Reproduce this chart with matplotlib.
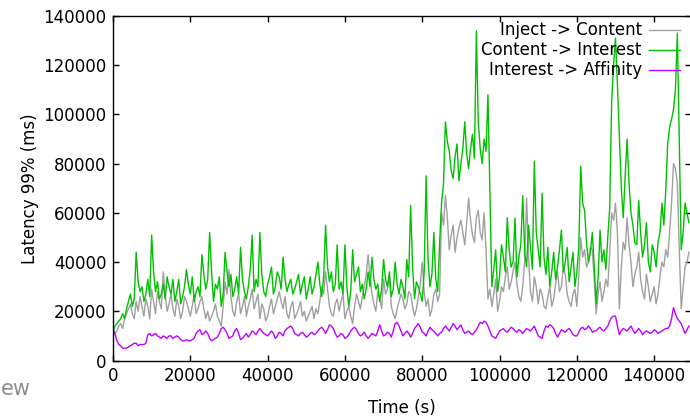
import numpy as np
import matplotlib
matplotlib.use("Agg")
import matplotlib.pyplot as plt

plt.rcParams['font.family'] = ['DejaVu Sans']

# time axis: one sample per 500 s
time_s = np.arange(0, 149001, 500)

# values in thousands of ms
inject_content = [
    10, 11, 12, 14, 15, 13, 17, 19, 21, 23, 19, 17, 24, 20, 26, 22, 18, 25, 22, 17,
    29, 24, 19, 28, 24, 21, 36, 27, 20, 23, 27, 21, 18, 25, 22, 17, 20, 26, 24, 21,
    18, 22, 27, 19, 21, 24, 26, 21, 17, 20, 16, 18, 20, 23, 18, 16, 14, 22, 32, 27,
    37, 26, 20, 18, 24, 27, 19, 22, 26, 18, 22, 25, 29, 21, 24, 27, 17, 23, 21, 16,
    18, 22, 25, 19, 22, 25, 28, 24, 21, 26, 19, 17, 22, 24, 17, 19, 21, 24, 18, 20,
    16, 18, 20, 22, 17, 21, 19, 24, 30, 27, 36, 29, 22, 19, 18, 23, 25, 20, 24, 27,
    17, 20, 22, 18, 15, 22, 27, 24, 21, 26, 30, 35, 43, 34, 27, 23, 20, 28, 25, 21,
    33, 27, 29, 34, 22, 19, 17, 21, 24, 27, 25, 21, 23, 28, 27, 22, 18, 21, 26, 31,
    40, 28, 22, 25, 18, 21, 27, 29, 24, 27, 60, 55, 67, 58, 45, 51, 55, 44, 50, 54,
    57, 52, 47, 56, 66, 57, 51, 48, 58, 61, 52, 49, 60, 45, 25, 29, 22, 27, 33, 20,
    24, 30, 28, 34, 38, 29, 32, 36, 40, 31, 26, 24, 30, 40, 66, 42, 28, 24, 34, 30,
    23, 29, 27, 22, 21, 26, 30, 22, 25, 31, 36, 28, 30, 38, 35, 27, 24, 22, 27, 29,
    22, 34, 50, 42, 45, 38, 40, 46, 45, 33, 19, 27, 32, 24, 28, 33, 30, 44, 60, 57,
    64, 52, 21, 38, 48, 45, 58, 47, 40, 30, 35, 38, 44, 33, 28, 25, 35, 30, 24, 27,
    30, 23, 27, 34, 40, 38, 45, 42, 52, 64, 80, 78, 72, 45, 21, 30, 38, 40, 44]

content_interest = [
    12, 14, 15, 16, 17, 19, 17, 21, 24, 27, 22, 25, 44, 32, 28, 30, 24, 27, 33, 26,
    51, 36, 28, 32, 25, 27, 31, 25, 34, 30, 27, 33, 24, 28, 33, 23, 26, 30, 37, 31,
    27, 34, 24, 28, 30, 26, 43, 35, 29, 33, 52, 36, 24, 31, 29, 34, 22, 27, 44, 36,
    30, 35, 26, 29, 34, 27, 46, 33, 28, 25, 30, 37, 51, 28, 33, 30, 52, 35, 28, 26,
    31, 34, 38, 27, 30, 36, 34, 29, 42, 33, 28, 31, 33, 27, 29, 32, 35, 27, 31, 34,
    25, 29, 34, 27, 30, 35, 40, 31, 26, 34, 55, 38, 32, 36, 28, 31, 47, 29, 32, 27,
    47, 30, 22, 28, 45, 32, 35, 38, 28, 31, 25, 29, 36, 30, 42, 33, 29, 31, 24, 29,
    41, 33, 30, 36, 26, 29, 40, 31, 27, 33, 30, 25, 41, 34, 63, 38, 25, 32, 30, 27,
    24, 36, 75, 41, 30, 35, 52, 33, 28, 48, 64, 72, 97, 89, 85, 77, 74, 83, 88, 73,
    80, 86, 97, 84, 78, 86, 92, 82, 134, 97, 86, 80, 90, 85, 108, 68, 30, 37, 45, 28,
    34, 47, 42, 36, 58, 45, 38, 40, 58, 34, 42, 47, 67, 44, 38, 55, 46, 37, 81, 52,
    45, 38, 68, 42, 35, 46, 30, 36, 44, 33, 38, 45, 53, 36, 40, 46, 32, 38, 44, 30,
    36, 46, 79, 64, 61, 48, 40, 44, 52, 38, 23, 34, 53, 40, 45, 37, 50, 62, 105, 120,
    131, 112, 91, 70, 58, 75, 90, 72, 60, 55, 48, 47, 65, 52, 42, 47, 56, 40, 36, 47,
    44, 38, 48, 52, 64, 55, 69, 88, 95, 98, 102, 110, 133, 90, 45, 52, 64, 60, 56]

interest_affinity = [
    13, 11, 8, 6.5, 6, 5, 5, 5, 5.5, 6, 6.5, 7, 7, 6, 6.5, 6.5, 6.5, 7, 10.5, 11,
    10, 10.5, 11, 10, 9.5, 9, 10, 9.5, 9, 10, 10, 9, 9.5, 10, 9.5, 8.5, 8, 8, 8.5, 8,
    8, 8.5, 9, 11, 12, 12.5, 10.5, 11, 12, 11, 9, 8, 8.5, 9, 9.5, 11, 13, 13.5, 12.5, 11,
    9, 9.5, 10, 12, 13, 11, 8.5, 9, 10, 11, 9.5, 10.5, 12, 11.5, 10.5, 12, 13, 12, 11, 10.5,
    10, 11, 12, 11, 9, 10, 11.5, 11, 10, 12, 13, 13.5, 14, 13, 11, 10.5, 10, 11, 11.5, 10.5,
    9.5, 10, 11, 11.5, 10.5, 11, 12, 13, 13.5, 12.5, 11, 12.5, 14.5, 14, 13, 11, 9.5, 10, 11, 10.5,
    9, 9.5, 10.5, 12, 13, 13.5, 12.5, 11, 10, 10.5, 11.5, 10, 9, 10, 11, 10.5, 10, 12, 14.5, 12,
    10, 10.5, 11.5, 11, 9.5, 12, 15, 15.5, 14, 12, 10, 11, 12, 11, 9.5, 11, 13, 14, 15, 13.5,
    11.5, 11, 10, 12, 13.5, 12.5, 12, 11, 10, 11, 11.5, 13, 14, 13, 12, 13.5, 15, 14, 12.5, 13.5,
    14.5, 12.5, 11, 11.5, 12, 11, 10.5, 11.5, 12.5, 14, 15.5, 15, 16, 15.5, 14, 12, 10, 9.5, 9, 10.5,
    12, 12.5, 13, 12, 11.5, 12.5, 13.5, 13, 12, 11.5, 12.5, 12, 11, 12, 13, 12.5, 12, 13, 14, 12,
    10, 9.5, 9, 12, 14, 13.5, 14.5, 14, 13, 11, 9.5, 11, 12.5, 12, 11.5, 12.5, 13, 12, 10.5, 10,
    10, 11.5, 13, 13.5, 12.5, 13, 14, 13, 11.5, 12, 12, 13, 13.5, 12.5, 12, 13, 14, 16, 17.5, 18,
    18, 14, 10.5, 12, 13, 12.5, 12, 13, 14, 12.5, 11, 12, 13, 12, 10.5, 11.5, 12, 11.5, 11, 11.5,
    12.5, 12, 11, 11.5, 12, 12.5, 13, 13, 14, 17, 21.5, 19, 17, 16, 15, 13, 11, 12.5, 14]

series_labels = ["Inject -> Content", "Content -> Interest", "Interest -> Affinity"]
series_colors = ["#a0a0a0", "#00c000", "#c000ff"]

x_ticks = [0, 20000, 40000, 60000, 80000, 100000, 120000, 140000]
y_ticks = [0, 20000, 40000, 60000, 80000, 100000, 120000, 140000]

W, H = 690, 416
fig = plt.figure(figsize=(W / 100, H / 100), dpi=100)
left_px, right_px, top_px, bottom_px = 113.0, 690.5, 16.0, 360.5
ax = fig.add_axes([left_px / W, (H - bottom_px) / H,
                   (right_px - left_px) / W, (bottom_px - top_px) / H])

series = [inject_content, content_interest, interest_affinity]
for vals, col in zip(series, series_colors):
    ax.plot(time_s, np.array(vals) * 1000, color=col, lw=1.0)

ax.set_xlim(0, 149400)
ax.set_ylim(0, 140000)
ax.set_xticks(x_ticks)
ax.set_yticks(y_ticks)
ax.set_xticklabels([str(v) for v in x_ticks])
ax.set_yticklabels([str(v) for v in y_ticks])
ax.tick_params(direction='in', length=4.5, width=1.0, top=True, right=True,
               labelsize=12, pad=4.5, colors='black')
for sp in ax.spines.values():
    sp.set_linewidth(1.0)

ax.set_xlabel("Time (s)", fontsize=12, labelpad=10)
ax.set_ylabel("Latency 99% (ms)", fontsize=12, labelpad=3)

# legend (gnuplot style, text right aligned, sample to the right)
aw = right_px - left_px
ah = bottom_px - top_px
rows_px = [30, 50, 70]
for lab, col, ry in zip(series_labels, series_colors, rows_px):
    yy = (bottom_px - ry) / ah
    ax.text((641.7 - left_px) / aw, yy, lab, transform=ax.transAxes,
            ha='right', va='center', fontsize=12)
    ax.plot([(649 - left_px) / aw, (680 - left_px) / aw], [yy, yy],
            transform=ax.transAxes, color=col, lw=1.0, clip_on=False)

fig.text(1 / W, (H - 395) / H, "ew", ha='left', va='baseline',
         fontsize=15, color='#8c8c8c')

fig.savefig("out.png", dpi=100)
